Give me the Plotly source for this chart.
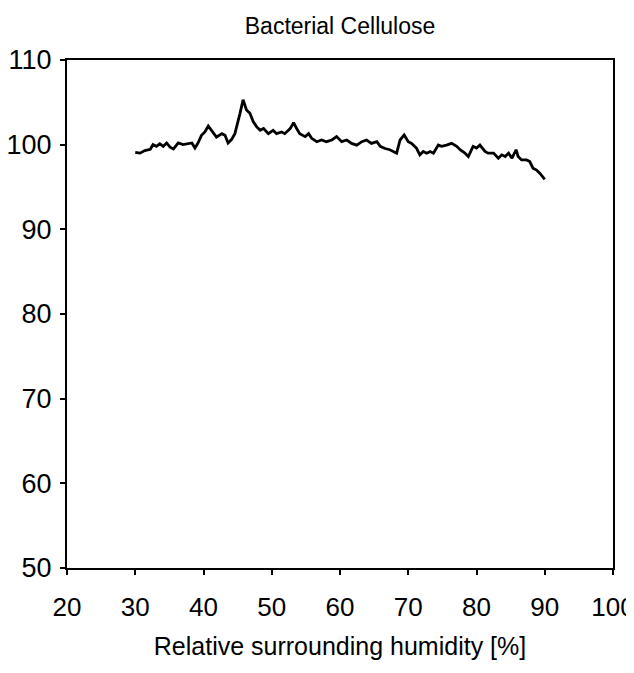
import plotly.graph_objects as go

humidity = [30.0, 30.7, 31.4, 32.2, 32.6, 33.1, 33.6, 34.1, 34.6, 35.1, 35.6, 36.3, 37.0, 37.5, 38.3, 38.75,
            39.2, 39.7, 40.2, 40.7, 41.2, 41.9, 42.7, 43.15, 43.6, 44.1, 44.6, 45.1, 45.35, 45.8, 46.3,
            46.8, 47.3, 47.8, 48.3, 48.8, 49.5, 50.2, 50.7, 51.45, 51.9, 52.7, 53.2, 53.65, 54.1, 54.9,
            55.4, 55.85, 56.6, 57.3, 58.0, 58.8, 59.5, 60.25, 61.0, 61.7, 62.45, 63.2, 63.9, 64.6, 65.4,
            65.9, 66.6, 67.3, 67.8, 68.3, 68.8, 69.4, 70.0, 70.5, 71.2, 71.7, 72.2, 72.7, 73.2, 73.7,
            74.4, 74.9, 75.6, 76.35, 77.1, 77.6, 78.3, 78.8, 79.5, 80.0, 80.5, 81.25, 81.7, 82.5, 83.2,
            83.7, 84.2, 84.7, 85.2, 85.8, 86.1, 86.6, 87.35, 87.8, 88.3, 88.8, 89.3, 89.8, 90.0]
values = [99.1, 99.0, 99.3, 99.45, 100.0, 99.8, 100.1, 99.8, 100.2, 99.7, 99.5, 100.2, 100.0, 100.1, 100.2, 99.6,
          100.2, 101.1, 101.5, 102.2, 101.7, 100.9, 101.3, 101.1, 100.2, 100.6, 101.3, 102.7, 103.7, 105.3, 104.1,
          103.7, 102.7, 102.1, 101.7, 101.9, 101.3, 101.7, 101.3, 101.5, 101.3, 101.9, 102.6, 101.9, 101.3, 100.95,
          101.3, 100.75, 100.35, 100.55, 100.35, 100.55, 100.95, 100.35, 100.55, 100.15, 99.95, 100.35, 100.55, 100.15, 100.35,
          99.8, 99.55, 99.4, 99.2, 99.0, 100.55, 101.15, 100.35, 100.15, 99.6, 98.8, 99.2, 99.0, 99.2, 99.0,
          99.95, 99.8, 99.95, 100.15, 99.8, 99.4, 99.0, 98.6, 99.8, 99.6, 99.95, 99.2, 99.0, 99.0, 98.4,
          98.8, 98.6, 99.0, 98.4, 99.4, 98.6, 98.2, 98.2, 98.0, 97.2, 97.0, 96.6, 96.0, 95.9]

x_ticks = [20, 30, 40, 50, 60, 70, 80, 90, 100]
y_ticks = [50, 60, 70, 80, 90, 100, 110]

title_text = "Bacterial Cellulose"
x_title = "Relative surrounding humidity [%]"

FONT = "Liberation Sans, Arial, sans-serif"

# page body has an 8px default margin; figure is sized to fit the window without scrollbars
OFF = 8
W, H = 634 - OFF, 673 - 2 * OFF
L, T = 67 - OFF, 60 - OFF
R = (OFF + W) - 613
B = (OFF + H) - 568

fig = go.Figure()
fig.add_trace(go.Scatter(x=humidity, y=values, mode="lines",
                         line=dict(color="black", width=2.8), showlegend=False))

fig.update_layout(
    width=W, height=H,
    margin=dict(l=L, r=R, t=T, b=B, autoexpand=False),
    paper_bgcolor="white", plot_bgcolor="white",
    font=dict(family=FONT, color="black", size=24),
    title=dict(text=title_text, x=(340 - OFF) / W, xanchor="center",
               y=1 - (26 - OFF) / H, yanchor="middle", font=dict(size=23, family=FONT)),
)
fig.update_xaxes(range=[20, 100], tickvals=x_ticks, ticktext=[str(v) for v in x_ticks],
                 showgrid=False, zeroline=False, showline=True, linecolor="black", linewidth=2,
                 mirror=True, ticks="outside", ticklen=5, tickwidth=1.5, tickcolor="black",
                 tickfont=dict(size=26), automargin=False, ticklabelstandoff=10,
                 ticklabeloverflow="allow",
                 title=dict(text=x_title, font=dict(size=25), standoff=16))
fig.update_yaxes(range=[50, 110], tickvals=y_ticks, ticktext=[str(v) for v in y_ticks],
                 showgrid=False, zeroline=False, showline=True, linecolor="black", linewidth=2,
                 mirror=True, ticks="outside", ticklen=5, tickwidth=1.5, tickcolor="black",
                 tickfont=dict(size=27), automargin=False, ticklabelstandoff=3)

fig.write_html("out.html")
